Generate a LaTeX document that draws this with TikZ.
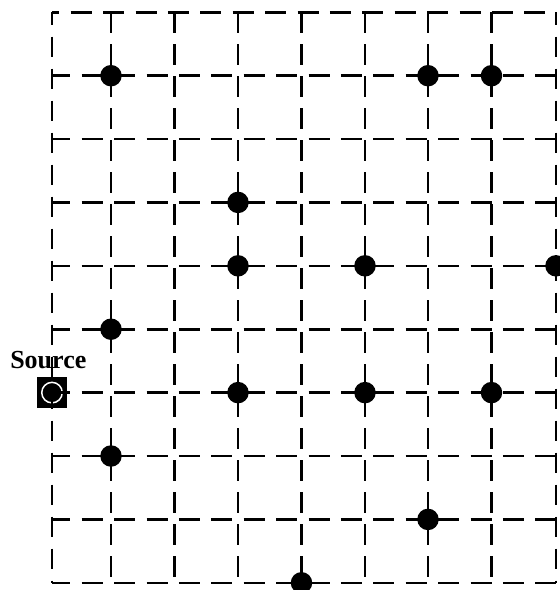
\documentclass[tikz,border=0pt]{standalone}
\usepackage{fontspec}
\setmainfont{Liberation Serif}
\begin{document}
\begin{tikzpicture}[x=1pt,y=-1pt,
  hline/.style={line width=2.6pt, dash pattern=on 21pt off 11.4pt, dash phase=2.7pt},
  vline/.style={line width=2.6pt, dash pattern=on 20.5pt off 11.5pt},
  dot/.style={circle, fill=black, inner sep=0pt, minimum size=21.5pt},
  srcbox/.style={fill=black, minimum size=30.5pt, inner sep=0pt},
  srcring/.style={circle, draw=white, line width=1.5pt, minimum size=20.5pt, inner sep=0pt},
  lbl/.style={font=\bfseries\fontsize{26}{30}\selectfont, anchor=base, inner sep=0pt}
]
\useasboundingbox (0,0) rectangle (560,590);
\foreach \i/\x in {0/52,1/111,2/174.5,3/238,4/301.5,5/365,6/428,7/491.5,8/556}
  \foreach \j/\y in {0/12.3,1/75.7,2/139,3/202.4,4/265.8,5/329.2,6/392.6,7/456,8/519.4,9/582.8}
    \coordinate (p\i-\j) at (\x,\y);
% label and source
\node[lbl] (label) at (48.3,368.3) {Source};
\node[srcbox] (src) at (p0-6) {};
\node[srcring] (ring) at (p0-6) {};
% grid
\draw[hline, dash phase=13.7pt] (p0-0) -- (p8-0);
\foreach \j in {1,...,9}
  \draw[hline] (p0-\j) -- (p8-\j);
\draw[vline, dash phase=7.6pt] (p0-0) -- (p0-9);
\draw[vline, dash phase=7.6pt] (p8-0) -- (p8-9);
\foreach \i in {1,...,7}
  \draw[vline] (p\i-0) -- (p\i-9);
% dots
\node[dot] (d1) at (p1-1) {};
\node[dot] (d2) at (p6-1) {};
\node[dot] (d3) at (p7-1) {};
\node[dot] (d4) at (p3-3) {};
\node[dot] (d5) at (p3-4) {};
\node[dot] (d6) at (p5-4) {};
\node[dot] (d7) at (p8-4) {};
\node[dot] (d8) at (p1-5) {};
\node[dot] (d9) at (p3-6) {};
\node[dot] (d10) at (p5-6) {};
\node[dot] (d11) at (p7-6) {};
\node[dot] (d12) at (p1-7) {};
\node[dot] (d13) at (p6-8) {};
\node[dot] (d14) at (p4-9) {};
\end{tikzpicture}
\end{document}
